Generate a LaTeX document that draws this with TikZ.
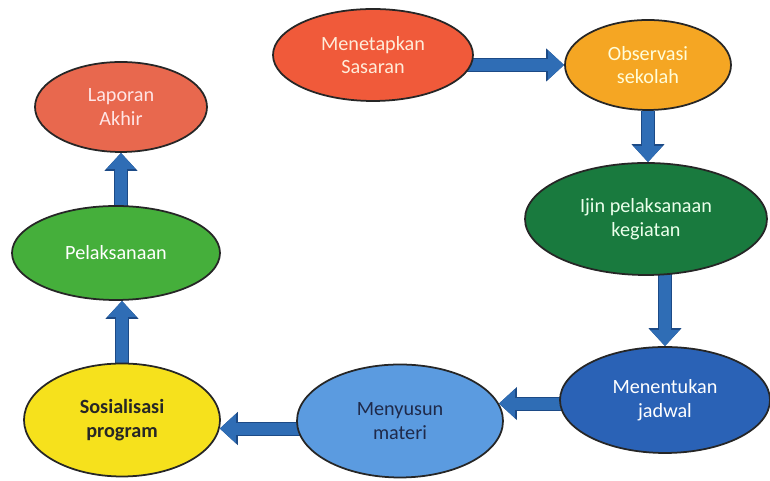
\documentclass[tikz,border=0pt]{standalone}
\usepackage{fontspec}
\setmainfont{Carlito}
\usetikzlibrary{shapes.geometric,arrows.meta,backgrounds}

\definecolor{cSasaran}{HTML}{F05A3A}
\definecolor{cObservasi}{HTML}{F5A623}
\definecolor{cIjin}{HTML}{197A3E}
\definecolor{cJadwal}{HTML}{2A62B6}
\definecolor{cMateri}{HTML}{5B9BE0}
\definecolor{cSosial}{HTML}{F6E11C}
\definecolor{cPelaks}{HTML}{45AF3B}
\definecolor{cLaporan}{HTML}{E8684E}
\definecolor{arrowblue}{HTML}{2F6DB5}
\definecolor{arrowedge}{HTML}{1C4A86}
\definecolor{inkdark}{HTML}{1F2A4A}

\begin{document}
\begin{tikzpicture}
	[every node/.style={ellipse,draw=black!85,line width=1pt,inner sep=0pt,align=center,
		font=\fontsize{11.5}{13.5}\selectfont},
	flow/.style={arrowblue,line width=0.24cm,-{Triangle[length=0.32cm,width=0.56cm]},
		preaction={draw=arrowedge,line width=0.28cm,-{Triangle[length=0.36cm,width=0.64cm]}}}]
	\useasboundingbox (0,0) rectangle (15.4,9.62);
	\node (sasaran) [fill=cSasaran,text=orange!15,minimum width=4cm,minimum height=1.84cm] at (7.46,8.52) {Menetapkan\\Sasaran};
	\node (observasi) [fill=cObservasi,text=yellow!15,minimum width=3.32cm,minimum height=1.8cm] at (12.96,8.32) {Observasi\\sekolah};
	\node (ijin) [fill=cIjin,text=white!92!green,minimum width=4.84cm,minimum height=2.24cm] at (12.92,5.24) {Ijin pelaksanaan\\kegiatan};
	\node (jadwal) [fill=cJadwal,text=white,minimum width=4.2cm,minimum height=2.12cm] at (13.3,1.62) {Menentukan\\jadwal};
	\node (materi) [fill=cMateri,text=inkdark,minimum width=4.12cm,minimum height=2.26cm] at (8.0,1.2) {Menyusun\\materi};
	\node (sosialisasi) [fill=cSosial,text=black!85,font=\fontsize{11.5}{13.5}\selectfont\bfseries,minimum width=3.92cm,minimum height=2.26cm] at (2.44,1.22) {Sosialisasi\\program};
	\node (pelaksanaan) [fill=cPelaks,text=white,minimum width=4.16cm,minimum height=1.88cm] at (2.32,4.56) {Pelaksanaan};
	\node (laporan) [fill=cLaporan,text=white!90!red,minimum width=3.44cm,minimum height=1.8cm] at (2.42,7.48) {Laporan\\Akhir};
	\begin{pgfonlayer}{background}
	\fill [white] (0,0) rectangle (15.4,9.62);
	\draw [flow] (sasaran |- observasi) -- (observasi.west);
	\draw [flow] (observasi) -- (observasi |- ijin.north);
	\draw [flow] (jadwal |- ijin) -- (jadwal.north);
	\draw [flow] (materi.10 -| jadwal) -- (materi.10);
	\draw [flow] (sosialisasi.-5 -| materi) -- (sosialisasi.-5);
	\draw [flow] (sosialisasi) -- (pelaksanaan.south -| sosialisasi);
	\draw [flow] (laporan.south |- pelaksanaan) -- (laporan.south);
	\end{pgfonlayer}
\end{tikzpicture}
\end{document}
